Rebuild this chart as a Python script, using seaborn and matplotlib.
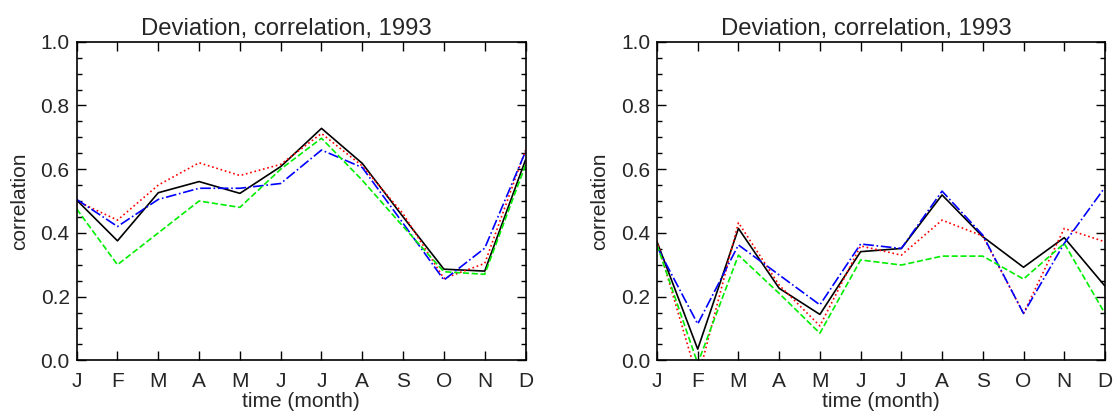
import matplotlib
matplotlib.use("Agg")
import matplotlib.pyplot as plt
import seaborn as sns
import pandas as pd
import numpy as np
from matplotlib.ticker import MultipleLocator

months = ["J", "F", "M", "A", "M", "J", "J", "A", "S", "O", "N", "D"]

# Left panel
left_black = [0.503, 0.375, 0.526, 0.561, 0.524, 0.608, 0.728, 0.618, 0.45, 0.286, 0.280, 0.629]
left_red   = [0.50, 0.44, 0.55, 0.62, 0.58, 0.615, 0.712, 0.61, 0.46, 0.257, 0.304, 0.66]
left_blue  = [0.505, 0.42, 0.505, 0.54, 0.54, 0.555, 0.660, 0.605, 0.43, 0.252, 0.352, 0.655]
left_green = [0.475, 0.30, 0.40, 0.50, 0.48, 0.60, 0.697, 0.565, 0.42, 0.278, 0.270, 0.613]

# Right panel
right_black = [0.372, 0.035, 0.414, 0.226, 0.144, 0.341, 0.351, 0.519, 0.388, 0.292, 0.385, 0.233]
right_red   = [0.375, -0.06, 0.432, 0.236, 0.108, 0.359, 0.330, 0.440, 0.390, 0.147, 0.414, 0.372]
right_blue  = [0.357, 0.114, 0.362, 0.268, 0.174, 0.365, 0.351, 0.531, 0.393, 0.147, 0.367, 0.543]
right_green = [0.362, -0.01, 0.330, 0.210, 0.085, 0.315, 0.299, 0.327, 0.327, 0.255, 0.367, 0.147]

title = "Deviation, correlation, 1993"

sns.set_theme(style="white")
plt.rcParams['font.family'] = ['Liberation Sans', 'DejaVu Sans']
plt.rcParams['xtick.direction'] = 'in'
plt.rcParams['ytick.direction'] = 'in'

fig = plt.figure(figsize=(11.16, 4.13), dpi=100)
ax1 = fig.add_axes([0.0687, 0.1276, 0.4022, 0.7714])
ax2 = fig.add_axes([0.5887, 0.1276, 0.4014, 0.7714])

styles = [
    ("black", "-", "black"),
    ("red", ":", "red"),
    ("blue", "-.", "#0000ff"),
    ("green", "--", "#00ee00"),
]

x = np.arange(len(months))
panels = [
    (ax1, {"black": left_black, "red": left_red, "blue": left_blue, "green": left_green}),
    (ax2, {"black": right_black, "red": right_red, "blue": right_blue, "green": right_green}),
]

fs = 15
for ax, series in panels:
    for name, ls, col in styles:
        df = pd.DataFrame({"month": x, "value": series[name]})
        sns.lineplot(data=df, x="month", y="value", ax=ax, color=col,
                     linestyle=ls, linewidth=1.2, legend=False)
    ax.set_xlim(0, 11)
    ax.set_ylim(0, 1.0)
    ax.set_xticks(x)
    ax.set_xticklabels(months, fontsize=fs)
    ax.yaxis.set_minor_locator(MultipleLocator(0.05))
    ax.set_yticks(np.arange(0, 1.01, 0.2))
    ax.set_yticklabels([f"{v:.1f}" for v in np.arange(0, 1.01, 0.2)], fontsize=fs)
    ax.tick_params(axis='both', which='major', length=6.5, width=1, color='black',
                   top=True, right=True, bottom=True, left=True, pad=5)
    ax.tick_params(axis='x', which='major', pad=8.5)
    ax.tick_params(axis='y', which='minor', length=3.5, width=1, color='black',
                   left=True, right=True)
    ax.set_xlabel("time (month)", fontsize=fs, labelpad=1)
    ax.set_ylabel("correlation", fontsize=fs, labelpad=8.5)
    ax.set_title(title, fontsize=17.2, pad=5, x=0.467)
    for sp in ax.spines.values():
        sp.set_color("black")
        sp.set_linewidth(1.2)
    ax.grid(False)

fig.savefig("out.png", dpi=100)
